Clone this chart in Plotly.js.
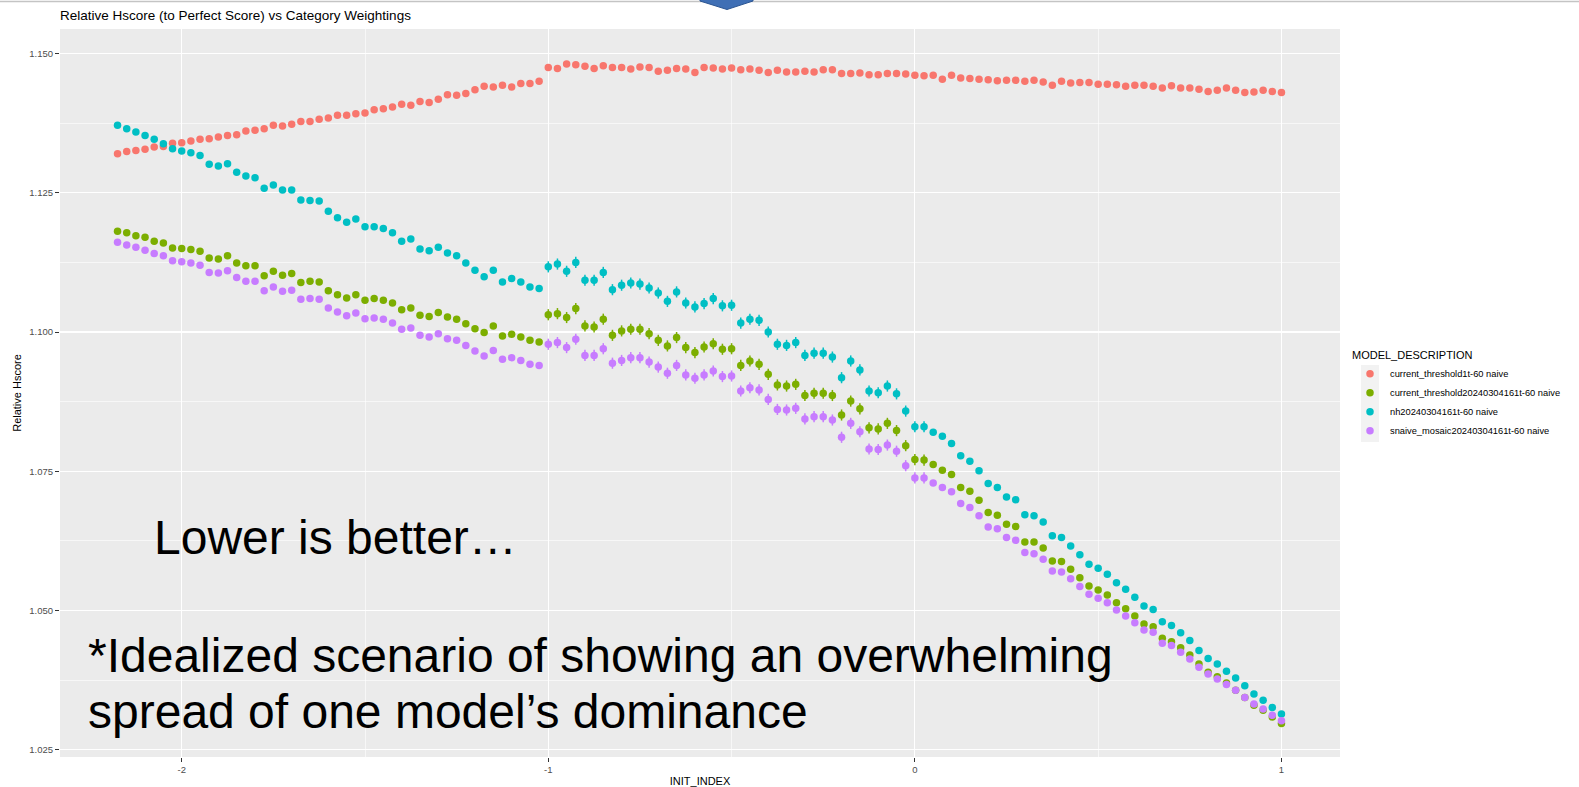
<!DOCTYPE html>
<html>
<head>
<meta charset="utf-8">
<script src="https://cdn.plot.ly/plotly-3.0.1.min.js"></script>
<style>
  html, body { margin: 0; padding: 0; background: #ffffff; }
  #chart { width: 1579px; height: 787px; }
</style>
</head>
<body>
<div id="chart"></div>
<script>
// ---------------- data ----------------
const seriesNames = [
  "current_threshold1t-60 naive",
  "current_threshold20240304161t-60 naive",
  "nh20240304161t-60 naive",
  "snaive_mosaic20240304161t-60 naive"
];
const seriesColors = ["#F8766D", "#7CAE00", "#00BFC4", "#C77CFF"];

const initIndex = [
  -2.175, -2.15, -2.125, -2.1, -2.075, -2.05, -2.025, -2, -1.975, -1.95,
  -1.925, -1.9, -1.875, -1.85, -1.825, -1.8, -1.775, -1.75, -1.725, -1.7,
  -1.675, -1.65, -1.625, -1.6, -1.575, -1.55, -1.525, -1.5, -1.475, -1.45,
  -1.425, -1.4, -1.375, -1.35, -1.325, -1.3, -1.275, -1.25, -1.225, -1.2,
  -1.175, -1.15, -1.125, -1.1, -1.075, -1.05, -1.025, -1, -0.975, -0.95,
  -0.925, -0.9, -0.875, -0.85, -0.825, -0.8, -0.775, -0.75, -0.725, -0.7,
  -0.675, -0.65, -0.625, -0.6, -0.575, -0.55, -0.525, -0.5, -0.475, -0.45,
  -0.425, -0.4, -0.375, -0.35, -0.325, -0.3, -0.275, -0.25, -0.225, -0.2,
  -0.175, -0.15, -0.125, -0.1, -0.075, -0.05, -0.025, 0, 0.025, 0.05,
  0.075, 0.1, 0.125, 0.15, 0.175, 0.2, 0.225, 0.25, 0.275, 0.3,
  0.325, 0.35, 0.375, 0.4, 0.425, 0.45, 0.475, 0.5, 0.525, 0.55,
  0.575, 0.6, 0.625, 0.65, 0.675, 0.7, 0.725, 0.75, 0.775, 0.8,
  0.825, 0.85, 0.875, 0.9, 0.925, 0.95, 0.975, 1
];

const currentThreshold1 = [
  1.1320, 1.1324, 1.1326, 1.1328, 1.1332, 1.1333, 1.1339, 1.1340, 1.1343, 1.1346,
  1.1347, 1.1350, 1.1353, 1.1354, 1.1361, 1.1362, 1.1365, 1.1371, 1.1370, 1.1373,
  1.1378, 1.1378, 1.1382, 1.1384, 1.1389, 1.1389, 1.1392, 1.1393, 1.1399, 1.1401,
  1.1404, 1.1409, 1.1407, 1.1414, 1.1412, 1.1418, 1.1426, 1.1425, 1.1428, 1.1435,
  1.1441, 1.1440, 1.1443, 1.1440, 1.1446, 1.1446, 1.1450, 1.1475, 1.1473, 1.1481,
  1.1480, 1.1477, 1.1473, 1.1478, 1.1475, 1.1475, 1.1472, 1.1476, 1.1475, 1.1468,
  1.1470, 1.1473, 1.1472, 1.1466, 1.1475, 1.1474, 1.1472, 1.1474, 1.1471, 1.1472,
  1.1470, 1.1466, 1.1470, 1.1467, 1.1467, 1.1468, 1.1467, 1.1471, 1.1471, 1.1464,
  1.1464, 1.1465, 1.1462, 1.1462, 1.1464, 1.1464, 1.1463, 1.1461, 1.1460, 1.1461,
  1.1454, 1.1461, 1.1456, 1.1455, 1.1454, 1.1453, 1.1451, 1.1452, 1.1452, 1.1450,
  1.1452, 1.1449, 1.1443, 1.1450, 1.1447, 1.1448, 1.1448, 1.1445, 1.1445, 1.1444,
  1.1441, 1.1443, 1.1443, 1.1441, 1.1438, 1.1442, 1.1438, 1.1438, 1.1436, 1.1432,
  1.1434, 1.1438, 1.1434, 1.1430, 1.1431, 1.1434, 1.1432, 1.1430
];

const currentThreshold2024 = [
  1.1181, 1.1178, 1.1173, 1.1170, 1.1163, 1.1160, 1.1151, 1.1150, 1.1148, 1.1145,
  1.1133, 1.1131, 1.1137, 1.1124, 1.1119, 1.1119, 1.1101, 1.1109, 1.1102, 1.1105,
  1.1089, 1.1091, 1.1090, 1.1074, 1.1067, 1.1061, 1.1067, 1.1057, 1.1060, 1.1057,
  1.1052, 1.1040, 1.1043, 1.1030, 1.1028, 1.1035, 1.1027, 1.1023,
  1.1015, 1.1006, 1.0999, 1.1011, 1.0993, 1.0996, 1.0991, 1.0985, 1.0982, 1.1031,
  1.1033, 1.1026, 1.1042, 1.1011, 1.1009, 1.1023, 1.0994, 1.1002, 1.1005, 1.1005,
  1.0997, 1.0985, 1.0975, 1.0990, 1.0972, 1.0963, 1.0973, 1.0979, 1.0969, 1.0970,
  1.0940, 1.0948, 1.0942, 1.0924, 1.0905, 1.0903, 1.0906, 1.0886, 1.0890, 1.0890, 1.0886, 1.0851,
  1.0876, 1.0862, 1.0828, 1.0826, 1.0836, 1.0823, 1.0796, 1.0771, 1.0770, 1.0762,
  1.0752, 1.0744, 1.0721, 1.0714, 1.0698, 1.0676, 1.0671, 1.0655, 1.0651,
  1.0623, 1.0623, 1.0612, 1.0589, 1.0588, 1.0574, 1.0559, 1.0544, 1.0537, 1.0528,
  1.0514, 1.0503, 1.0490, 1.0476, 1.0471, 1.0450, 1.0444, 1.0433, 1.0420, 1.0404,
  1.0389, 1.0381, 1.0370, 1.0357, 1.0344, 1.0330, 1.0321, 1.0309, 1.0297
];

const nh2024 = [
  1.1371, 1.1365, 1.1359, 1.1353, 1.1346, 1.1338, 1.1329, 1.1325, 1.1322, 1.1317,
  1.1301, 1.1298, 1.1302, 1.1287, 1.1280, 1.1277, 1.1258, 1.1264, 1.1255, 1.1255,
  1.1237, 1.1236, 1.1235, 1.1217, 1.1205, 1.1197, 1.1203, 1.1189, 1.1189, 1.1186,
  1.1178, 1.1163, 1.1167, 1.1149, 1.1146, 1.1152, 1.1142, 1.1137,
  1.1124, 1.1111, 1.1099, 1.1111, 1.1090, 1.1096, 1.1090, 1.1081, 1.1078, 1.1117,
  1.1122, 1.1109, 1.1125, 1.1093, 1.1093, 1.1107, 1.1076, 1.1084, 1.1088, 1.1086,
  1.1079, 1.1070, 1.1055, 1.1072, 1.1052, 1.1045, 1.1051, 1.1060, 1.1047, 1.1048,
  1.1016, 1.1023, 1.1021, 1.1000, 1.0978, 1.0976, 1.0981, 1.0958, 1.0962, 1.0962, 1.0955, 1.0918,
  1.0948, 1.0932, 1.0894, 1.0891, 1.0903, 1.0889, 1.0858, 1.0830, 1.0830, 1.0820,
  1.0813, 1.0800, 1.0778, 1.0768, 1.0751, 1.0728, 1.0721, 1.0704, 1.0699, 1.0672,
  1.0670, 1.0659,
  1.0634, 1.0631, 1.0616, 1.0600, 1.0583, 1.0576, 1.0565, 1.0550, 1.0538, 1.0524,
  1.0508, 1.0502, 1.0480, 1.0473, 1.0460, 1.0446, 1.0428, 1.0414, 1.0404, 1.0391,
  1.0379, 1.0365, 1.0350, 1.0339, 1.0326, 1.0314
];

const snaiveMosaic2024 = [
  1.1161, 1.1156, 1.1152, 1.1147, 1.1141, 1.1137, 1.1128, 1.1126, 1.1124, 1.1120,
  1.1107, 1.1106, 1.1110, 1.1098, 1.1091, 1.1091, 1.1074, 1.1081, 1.1073, 1.1075,
  1.1059, 1.1060, 1.1059, 1.1043, 1.1036, 1.1029, 1.1034, 1.1024, 1.1025, 1.1023,
  1.1016, 1.1005, 1.1007, 1.0994, 1.0991, 1.0997, 1.0988, 1.0985,
  1.0976, 1.0966, 1.0957, 1.0967, 1.0951, 1.0954, 1.0949, 1.0942, 1.0940, 1.0978,
  1.0981, 1.0972, 1.0987, 1.0958, 1.0958, 1.0970, 1.0944, 1.0949, 1.0954, 1.0954,
  1.0946, 1.0937, 1.0926, 1.0940, 1.0923, 1.0917, 1.0923, 1.0930, 1.0920, 1.0921,
  1.0894, 1.0900, 1.0896, 1.0879, 1.0861, 1.0860, 1.0863, 1.0844, 1.0848, 1.0848, 1.0842, 1.0811,
  1.0836, 1.0821, 1.0790, 1.0789, 1.0797, 1.0786, 1.0760, 1.0738, 1.0738, 1.0729,
  1.0721, 1.0713, 1.0692, 1.0685, 1.0670, 1.0650, 1.0647, 1.0631, 1.0626,
  1.0604, 1.0602, 1.0592, 1.0571, 1.0569, 1.0557, 1.0543, 1.0529, 1.0522, 1.0514,
  1.0501, 1.0490, 1.0478, 1.0465, 1.0461, 1.0441, 1.0437, 1.0425, 1.0413, 1.0398,
  1.0386, 1.0377, 1.0367, 1.0357, 1.0344, 1.0332, 1.0323, 1.0312, 1.0302
];

// half-length of the small pointrange whiskers (visible only around -1 .. 0)
const whiskerHalf = [
  0, 0, 0, 0, 0, 0, 0, 0, 0, 0,
  0, 0, 0, 0, 0, 0, 0, 0, 0, 0,
  0, 0, 0, 0, 0, 0, 0, 0, 0, 0,
  0, 0, 0, 0, 0, 0, 0, 0, 0, 0,
  0, 0, 0, 0, 0, 0, 0, 0.001, 0.001, 0.001,
  0.001, 0.001, 0.001, 0.001, 0.001, 0.001, 0.001, 0.001, 0.001, 0.001,
  0.001, 0.001, 0.001, 0.001, 0.001, 0.001, 0.001, 0.001, 0.001, 0.001,
  0.001, 0.001, 0.001, 0.001, 0.001, 0.001, 0.001, 0.001, 0.001, 0.001,
  0.001, 0.001, 0.001, 0.001, 0.001, 0.001, 0.001, 0.001, 0.001, 0,
  0, 0, 0, 0, 0, 0, 0, 0, 0, 0,
  0, 0, 0, 0, 0, 0, 0, 0, 0, 0,
  0, 0, 0, 0, 0, 0, 0, 0, 0, 0,
  0, 0, 0, 0, 0, 0, 0, 0
];
const noWhisker = initIndex.map(() => 0);

const xTickVals = [-2, -1, 0, 1];
const xTickText = ["-2", "-1", "0", "1"];
const yTickVals = [1.025, 1.05, 1.075, 1.1, 1.125, 1.15];
const yTickText = ["1.025", "1.050", "1.075", "1.100", "1.125", "1.150"];

// ---------------- chart ----------------
const FONT = "Liberation Sans, Arial, Helvetica, sans-serif";
const W = 1579, H = 787;
const M = { l: 60, r: 239, t: 29, b: 30 };
const PW = W - M.l - M.r, PH = H - M.t - M.b;
const px = (x) => (x - M.l) / PW;          // pixel -> paper x
const py = (y) => (H - M.b - y) / PH;      // pixel -> paper y

const ySeries = [currentThreshold1, currentThreshold2024, nh2024, snaiveMosaic2024];
const errSeries = [noWhisker, whiskerHalf, whiskerHalf, whiskerHalf];

const traces = seriesNames.map((name, k) => ({
  type: "scatter",
  mode: "markers",
  name: name,
  x: initIndex,
  y: ySeries[k],
  marker: { color: seriesColors[k], size: 7.5, line: { width: 0 } },
  error_y: {
    type: "data", array: errSeries[k], visible: true,
    color: seriesColors[k], thickness: 1.5, width: 0
  },
  hoverinfo: "x+y+name"
}));

const layout = {
  width: W, height: H,
  margin: M,
  paper_bgcolor: "#ffffff",
  plot_bgcolor: "#ebebeb",
  font: { family: FONT, color: "#000000" },
  title: {
    text: "Relative Hscore (to Perfect Score) vs Category Weightings",
    font: { family: FONT, size: 13.5, color: "#000000" },
    xref: "paper", x: 0, xanchor: "left",
    yref: "container", y: 1 - 15 / H, yanchor: "middle"
  },
  xaxis: {
    range: [-2.332, 1.1597],
    tickmode: "array", tickvals: xTickVals, ticktext: xTickText,
    ticks: "outside", ticklen: 4, tickwidth: 1, tickcolor: "#333333",
    tickfont: { family: FONT, size: 9.5, color: "#4d4d4d" },
    showgrid: true, gridcolor: "#ffffff", gridwidth: 1.2,
    minor: { dtick: 0.5, tick0: -2, showgrid: true, gridcolor: "#ffffff", gridwidth: 0.6, ticks: "" },
    zeroline: false, showline: false,
    title: { text: "INIT_INDEX", font: { family: FONT, size: 11, color: "#000000" }, standoff: 3 }
  },
  yaxis: {
    range: [1.0237, 1.1544],
    tickmode: "array", tickvals: yTickVals, ticktext: yTickText,
    ticks: "outside", ticklen: 4, tickwidth: 1, tickcolor: "#333333",
    tickfont: { family: FONT, size: 9.5, color: "#4d4d4d" },
    showgrid: true, gridcolor: "#ffffff", gridwidth: 1.2,
    minor: { dtick: 0.0125, tick0: 1.025, showgrid: true, gridcolor: "#ffffff", gridwidth: 0.6, ticks: "" },
    zeroline: false, showline: false,
    title: { text: "Relative Hscore", font: { family: FONT, size: 11, color: "#000000" }, standoff: 5 }
  },
  legend: {
    title: { text: "MODEL_DESCRIPTION", font: { family: FONT, size: 11, color: "#000000" } },
    font: { family: FONT, size: 9.3, color: "#000000" },
    x: px(1350), xanchor: "left",
    y: py(345), yanchor: "top",
    bgcolor: "rgba(0,0,0,0)",
    itemsizing: "trace",
    tracegroupgap: 0
  },
  showlegend: true,
  shapes: [
    // slide frame line at the very top
    { type: "line", xref: "paper", yref: "paper",
      x0: px(0), x1: px(W), y0: py(1.5), y1: py(1.5),
      line: { color: "#c4c4c4", width: 1.5 }, layer: "above" },
    // blue chevron tab at the top
    { type: "path", xref: "paper", yref: "paper",
      path: "M " + px(700) + "," + py(-2) + " L " + px(753) + "," + py(-2) +
            " L " + px(753) + "," + py(1) + " L " + px(727) + "," + py(9.5) +
            " L " + px(700) + "," + py(1) + " Z",
      fillcolor: "#3f6fb5", line: { color: "#2b5592", width: 1 }, layer: "above" },
    // legend key background
    { type: "rect", xref: "paper", yref: "paper",
      x0: px(1361), x1: px(1379), y0: py(442), y1: py(365),
      fillcolor: "#f2f2f2", line: { width: 0 }, layer: "below" }
  ],
  annotations: [
    { text: "Lower is better…", xref: "paper", yref: "paper",
      x: px(152), y: py(537.5), xanchor: "left", yanchor: "middle",
      showarrow: false, font: { family: FONT, size: 48, color: "#000000" } },
    { text: "*Idealized scenario of showing an overwhelming", xref: "paper", yref: "paper",
      x: px(86), y: py(655), xanchor: "left", yanchor: "middle",
      showarrow: false, font: { family: FONT, size: 48, color: "#000000" } },
    { text: "spread of one model’s dominance", xref: "paper", yref: "paper",
      x: px(86), y: py(711), xanchor: "left", yanchor: "middle",
      showarrow: false, font: { family: FONT, size: 48, color: "#000000" } }
  ]
};

Plotly.newPlot("chart", traces, layout, { displayModeBar: false, staticPlot: true });
</script>
</body>
</html>
